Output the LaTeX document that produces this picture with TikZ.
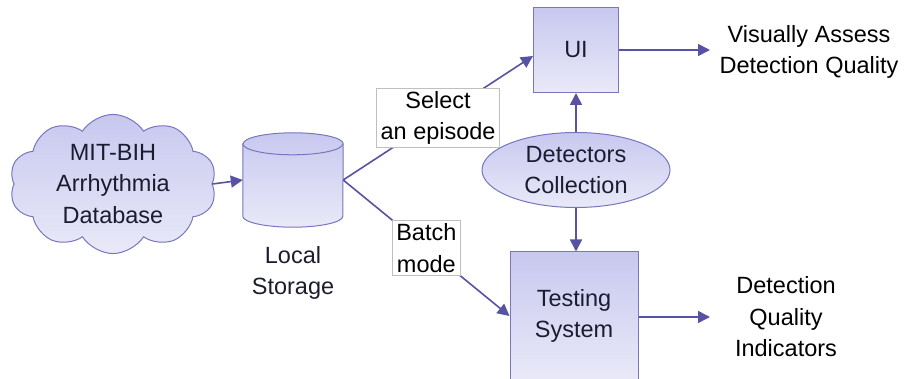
\documentclass[tikz,border=0pt]{standalone}
\usepackage{fontspec}
\setmainfont{Liberation Sans}
\usepackage{tikz}
\usetikzlibrary{shapes,shapes.geometric,shapes.symbols,arrows,arrows.meta,positioning,calc}

\definecolor{boxtop}{RGB}{200,200,240}
\definecolor{boxbot}{RGB}{233,233,248}
\definecolor{boxline}{RGB}{120,118,190}
\definecolor{arrowcol}{RGB}{88,82,165}
\definecolor{nodetext}{RGB}{28,28,48}

\tikzset{
  blockbox/.style={draw=boxline, line width=1pt, top color=boxtop, bottom color=boxbot,
    text=nodetext, align=center, inner sep=0pt},
  flow/.style={draw=arrowcol, line width=1.6pt, -{Triangle[length=12pt,width=12pt]}},
  edgelabel/.style={fill=white, draw=black!25, line width=0.5pt, align=center,
    text=black, inner xsep=4pt, inner ysep=3pt},
  outtext/.style={align=center, text=black, inner sep=0pt},
}

\begin{document}
\begin{tikzpicture}[x=1pt,y=-1pt,font=\fontsize{23.5}{31.5}\selectfont]
  \useasboundingbox (0,0) rectangle (905,379);
  \begin{scope}
  \clip (0,0) rectangle (905,379);

  % sources
  \node[blockbox, cloud, cloud puffs=10, cloud puff arc=115, aspect=1.7,
        minimum width=207pt, minimum height=128pt] (mitbih) at (113,184)
        {MIT-BIH\\Arrhythmia\\Database};
  \node[minimum width=100pt, minimum height=94pt, inner sep=0pt,
        label={[outtext, text=nodetext, yshift=-19pt]below:Local\\Storage}] (storage) at (293,180) {};
  % cylinder body
  \draw[draw=boxline, line width=1pt, top color=boxtop, bottom color=boxbot]
    (storage.north west) ++(0,11) -- ($(storage.south west)+(0,-11)$)
    arc[start angle=180, end angle=360, x radius=50pt, y radius=11pt]
    -- ($(storage.north east)+(0,11)$)
    arc[start angle=0, end angle=180, x radius=50pt, y radius=11pt] -- cycle;
  \draw[draw=boxline, line width=1pt] ($(storage.north west)+(0,11)$)
    arc[start angle=180, end angle=360, x radius=50pt, y radius=11pt];

  % processing
  \node[blockbox, minimum width=85pt, minimum height=85pt] (ui) at (576,50) {UI};
  \node[blockbox, ellipse, minimum width=188pt, minimum height=75pt] (detectors) at (576,170)
        {Detectors\\Collection};
  \node[blockbox, minimum width=128pt, minimum height=128pt] (testing) at (574,316)
        {Testing\\System};

  % results
  \node[outtext] (assess) at (809,52) {Visually Assess\\Detection Quality};
  \node[outtext] (indicators) at (786,317) {Detection\\Quality\\Indicators};
  \coordinate (assessin) at (710,50);
  \coordinate (indicin) at (710,317);

  % connectors
  \draw[flow] (mitbih.east) -- (storage.west);
  \draw[flow] (storage.east) -- ($(ui.west)+(0,6)$)
     node[edgelabel, pos=0.5] {Select\\an episode};
  \draw[flow] (storage.east) -- (testing.west)
     node[edgelabel, pos=0.5] {Batch\\mode};
  \draw[flow] (detectors.north) -- (ui.south);
  \draw[flow] (detectors.south) -- (detectors.south |- testing.north);
  \draw[flow] (ui.east) -- (assessin);
  \draw[flow] (testing.east |- indicin) -- (indicin);
  \end{scope}
\end{tikzpicture}
\end{document}
